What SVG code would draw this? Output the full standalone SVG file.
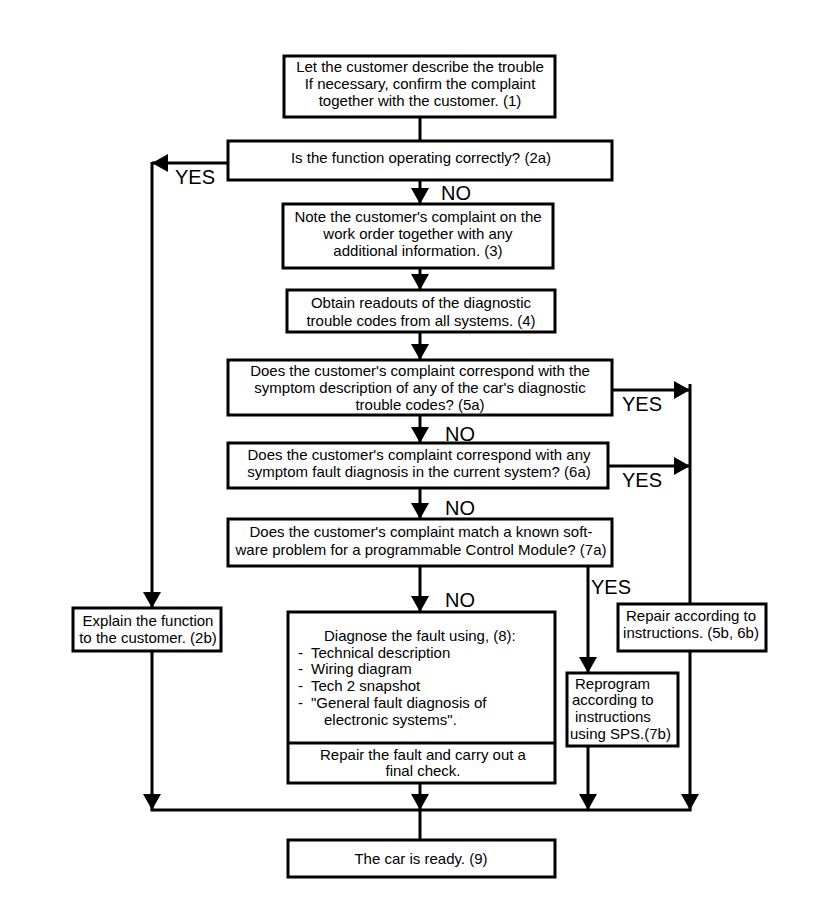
<svg xmlns="http://www.w3.org/2000/svg" width="816" height="918" viewBox="0 0 816 918">
<defs>
<marker id="ah" markerUnits="userSpaceOnUse" markerWidth="18" markerHeight="18" viewBox="0 0 16 18" refX="16" refY="9" orient="auto">
<path d="M0,0 L16,9 L0,18 Z" fill="#000"/>
</marker>
</defs>
<style>
.box{fill:#fff;stroke:#000;stroke-width:3}
.ln{fill:none;stroke:#000;stroke-width:3}
.t{font-family:"Liberation Sans",Arial,sans-serif;font-size:15px;fill:#000;text-anchor:middle}
.l{text-anchor:start}
.lab{font-family:"Liberation Sans",Arial,sans-serif;font-size:20px;fill:#000}
</style>
<rect width="816" height="918" fill="#fff"/>
<g id="connectors">
<line class="ln" x1="420" y1="117" x2="420" y2="141"/>
<line class="ln" x1="228" y1="163" x2="152" y2="163" marker-end="url(#ah)"/>
<line class="ln" x1="152" y1="162" x2="152" y2="608" marker-end="url(#ah)"/>
<line class="ln" x1="420" y1="180" x2="420" y2="204" marker-end="url(#ah)"/>
<line class="ln" x1="420" y1="268" x2="420" y2="290" marker-end="url(#ah)"/>
<line class="ln" x1="420" y1="332" x2="420" y2="360" marker-end="url(#ah)"/>
<line class="ln" x1="420" y1="415" x2="420" y2="443" marker-end="url(#ah)"/>
<line class="ln" x1="420" y1="488" x2="420" y2="519" marker-end="url(#ah)"/>
<line class="ln" x1="420" y1="566" x2="420" y2="612" marker-end="url(#ah)"/>
<line class="ln" x1="612" y1="390" x2="690" y2="390" marker-end="url(#ah)"/>
<line class="ln" x1="608" y1="466" x2="690" y2="466" marker-end="url(#ah)"/>
<line class="ln" x1="690" y1="384" x2="690" y2="604"/>
<line class="ln" x1="690" y1="651" x2="690" y2="810" marker-end="url(#ah)"/>
<line class="ln" x1="588" y1="566" x2="588" y2="673" marker-end="url(#ah)"/>
<line class="ln" x1="588" y1="746" x2="588" y2="810" marker-end="url(#ah)"/>
<line class="ln" x1="420" y1="783" x2="420" y2="810" marker-end="url(#ah)"/>
<line class="ln" x1="152" y1="651" x2="152" y2="810" marker-end="url(#ah)"/>
<line class="ln" x1="150.5" y1="810" x2="691.5" y2="810"/>
<line class="ln" x1="420" y1="810" x2="420" y2="840"/>
<text class="lab" x="175" y="184">YES</text>
<text class="lab" x="441" y="200">NO</text>
<text class="lab" x="622" y="411">YES</text>
<text class="lab" x="445" y="441">NO</text>
<text class="lab" x="622" y="487">YES</text>
<text class="lab" x="445" y="515">NO</text>
<text class="lab" x="591" y="594">YES</text>
<text class="lab" x="445" y="607">NO</text>
</g>
<g id="n1">
<rect class="box" x="284" y="56" width="271" height="61"/>
<text class="t" x="420" y="72">Let the customer describe the trouble</text>
<text class="t" x="420" y="89">If necessary, confirm the complaint</text>
<text class="t" x="420" y="106">together with the customer. (1)</text>
</g>
<g id="n2a">
<rect class="box" x="228" y="141" width="384" height="39"/>
<text class="t" x="421" y="163">Is the function operating correctly?  (2a)</text>
</g>
<g id="n3">
<rect class="box" x="283" y="204" width="270" height="64"/>
<text class="t" x="418" y="222">Note the customer's complaint on the</text>
<text class="t" x="418" y="239">work order together with any</text>
<text class="t" x="418" y="256">additional information.  (3)</text>
</g>
<g id="n4">
<rect class="box" x="287" y="290" width="268" height="42"/>
<text class="t" x="421" y="308">Obtain readouts of the diagnostic</text>
<text class="t" x="421" y="326">trouble codes from all systems. (4)</text>
</g>
<g id="n5a">
<rect class="box" x="228" y="360" width="384" height="55"/>
<text class="t" x="420" y="376">Does the customer's complaint correspond with the</text>
<text class="t" x="420" y="393">symptom description of any of the car's diagnostic</text>
<text class="t" x="420" y="410">trouble codes? (5a)</text>
</g>
<g id="n6a">
<rect class="box" x="228" y="443" width="380" height="45"/>
<text class="t" x="419" y="460">Does the customer's complaint correspond with any</text>
<text class="t" x="419" y="477">symptom fault diagnosis in the current system? (6a)</text>
</g>
<g id="n7a">
<rect class="box" x="228" y="519" width="384" height="47"/>
<text class="t" x="421" y="537">Does the customer's complaint match a known soft-</text>
<text class="t" x="421" y="555">ware problem for a programmable Control Module? (7a)</text>
</g>
<g id="n2b">
<rect class="box" x="73" y="608" width="148" height="43"/>
<text class="t" x="148" y="626">Explain the function</text>
<text class="t" x="148" y="643">to the customer. (2b)</text>
</g>
<g id="n8">
<rect class="box" x="288" y="612" width="267" height="171"/>
<line class="ln" x1="288" y1="743" x2="555" y2="743"/>
<text class="t l" x="324" y="641">Diagnose the fault using, (8):</text>
<text class="t l" x="298" y="658">-</text><text class="t l" x="311" y="658">Technical description</text>
<text class="t l" x="298" y="674">-</text><text class="t l" x="311" y="674">Wiring diagram</text>
<text class="t l" x="298" y="691">-</text><text class="t l" x="311" y="691">Tech 2 snapshot</text>
<text class="t l" x="298" y="708">-</text><text class="t l" x="311" y="708">"General fault diagnosis of</text>
<text class="t l" x="324" y="725">electronic systems".</text>
<text class="t" x="423" y="760">Repair the fault and carry out a</text>
<text class="t" x="423" y="776">final check.</text>
</g>
<g id="n5b6b">
<rect class="box" x="618" y="604" width="148" height="47"/>
<text class="t" x="691" y="621">Repair according to</text>
<text class="t" x="691" y="638">instructions. (5b, 6b)</text>
</g>
<g id="n7b">
<rect class="box" x="567" y="673" width="111" height="73"/>
<text class="t l" x="575" y="689">Reprogram</text>
<text class="t l" x="572" y="705">according to</text>
<text class="t l" x="575" y="722">instructions</text>
<text class="t l" x="570" y="739">using SPS.(7b)</text>
</g>
<g id="n9">
<rect class="box" x="288" y="840" width="267" height="37"/>
<text class="t" x="421" y="864">The car is ready. (9)</text>
</g>
</svg>
